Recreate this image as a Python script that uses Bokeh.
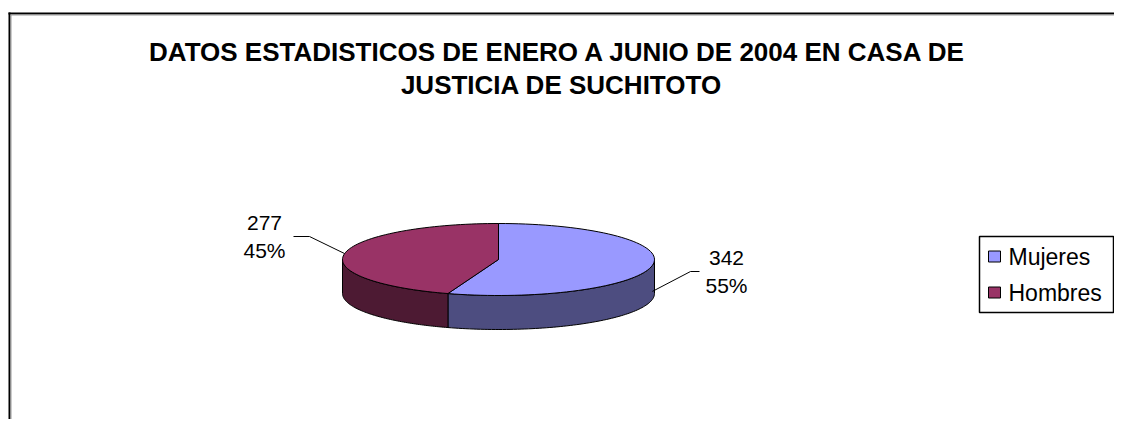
import math
from bokeh.plotting import figure
from bokeh.models import Range1d
from bokeh.core.properties import value
from bokeh.embed import file_html
from bokeh.resources import INLINE

# ---- data ----
categories = ["Mujeres", "Hombres"]
counts = [342, 277]
top_colors = ["#9999FF", "#993366"]
side_colors = ["#4D4D80", "#4D1A33"]
title_lines = ["DATOS ESTADISTICOS DE ENERO A JUNIO  DE 2004 EN CASA DE",
               "JUSTICIA DE SUCHITOTO"]

# ---- layout (screenshot pixel coordinates) ----
W, H = 1114, 419
p = figure(width=W, height=H, output_backend="svg", toolbar_location=None,
           x_range=Range1d(0, W), y_range=Range1d(H, 0),
           x_axis_type=None, y_axis_type=None, min_border=0,
           outline_line_color=None, background_fill_color="white",
           border_fill_color="white")
p.grid.visible = False

# chart frame (top and left edges visible)
p.segment(x0=[8, 9], y0=[13, 12], x1=[W, 9], y1=[13, H], line_color="black", line_width=2)
p.segment(x0=[10, 10.5], y0=[14.5, 14], x1=[W, 10.5], y1=[14.5, H], line_color="#9a9a9a", line_width=1)

# title
FONT = value("Liberation Sans")
p.text(x=[561, 561], y=[51, 84], text=title_lines, text_font=FONT,
       text_font_size="26px", text_font_style="bold", text_align="center",
       text_baseline="middle", text_color="black")

# 3D pie geometry
cx, cy, a, b, D = 498, 259, 156, 36, 34
total = sum(counts)
fracs = [c / total for c in counts]

def pt(theta_deg, dy=0.0):
    t = math.radians(theta_deg)
    return cx + a * math.sin(t), cy - b * math.cos(t) + dy

starts, ends = [], []
acc = 0.0
for f in fracs:
    starts.append(acc * 360)
    acc += f
    ends.append(acc * 360)

def arc(t1, t2, dy=0.0, n=80):
    xs, ys = [], []
    for i in range(n + 1):
        x, y = pt(t1 + (t2 - t1) * i / n, dy)
        xs.append(x); ys.append(y)
    return xs, ys

# sides (front half: 90..270 deg clockwise from top)
sx, sy, sc = [], [], []
for t1, t2, col in zip(starts, ends, side_colors):
    s, e = max(t1, 90), min(t2, 270)
    if e > s:
        xt, yt = arc(s, e)
        xb, yb = arc(s, e, D)
        sx.append(xt + xb[::-1]); sy.append(yt + yb[::-1]); sc.append(col)
p.patches(xs=sx, ys=sy, fill_color=sc, line_color="black", line_width=1)

# top faces
tx, ty = [], []
for t1, t2 in zip(starts, ends):
    xa, ya = arc(t1, t2)
    tx.append([cx] + xa); ty.append([cy] + ya)
p.patches(xs=tx, ys=ty, fill_color=top_colors, line_color="black", line_width=1)

# data labels with leader lines
pct = [f"{round(f * 100)}%" for f in fracs]
lbl_font = "21px"
for i, (t1, t2) in enumerate(zip(starts, ends)):
    mid = (t1 + t2) / 2
    x0, y0 = pt(mid)
    right = math.sin(math.radians(mid)) > 0
    if right:
        y0 += 26
        xe, ye = 690, 271
        xf = 699
        tcx = 726
    else:
        xe, ye = 309, 236
        xf = 293
        tcx = 264
    p.line(x=[x0, xe, xf], y=[y0, ye, ye], line_color="black", line_width=1)
    p.text(x=[tcx, tcx], y=[ye - 14, ye + 14], text=[str(counts[i]), pct[i]],
           text_font=FONT, text_font_size=lbl_font, text_align="center",
           text_baseline="middle", text_color="black")

# legend
lx0, lx1, ly0, ly1 = 979, 1113, 236, 312
p.quad(left=[lx0], right=[lx1], top=[ly0], bottom=[ly1], fill_color="white",
       line_color="black", line_width=1.5)
ys_leg = [256, 292]
p.quad(left=[988] * len(categories), right=[1000] * len(categories),
       top=[y - 5.5 for y in ys_leg], bottom=[y + 5.5 for y in ys_leg],
       fill_color=top_colors, line_color="black", line_width=1)
p.text(x=[1008] * len(categories), y=ys_leg, text=categories, text_font=FONT,
       text_font_size="23px", text_align="left", text_baseline="middle",
       text_color="black")

open("out.html", "w").write(file_html(p, INLINE))
